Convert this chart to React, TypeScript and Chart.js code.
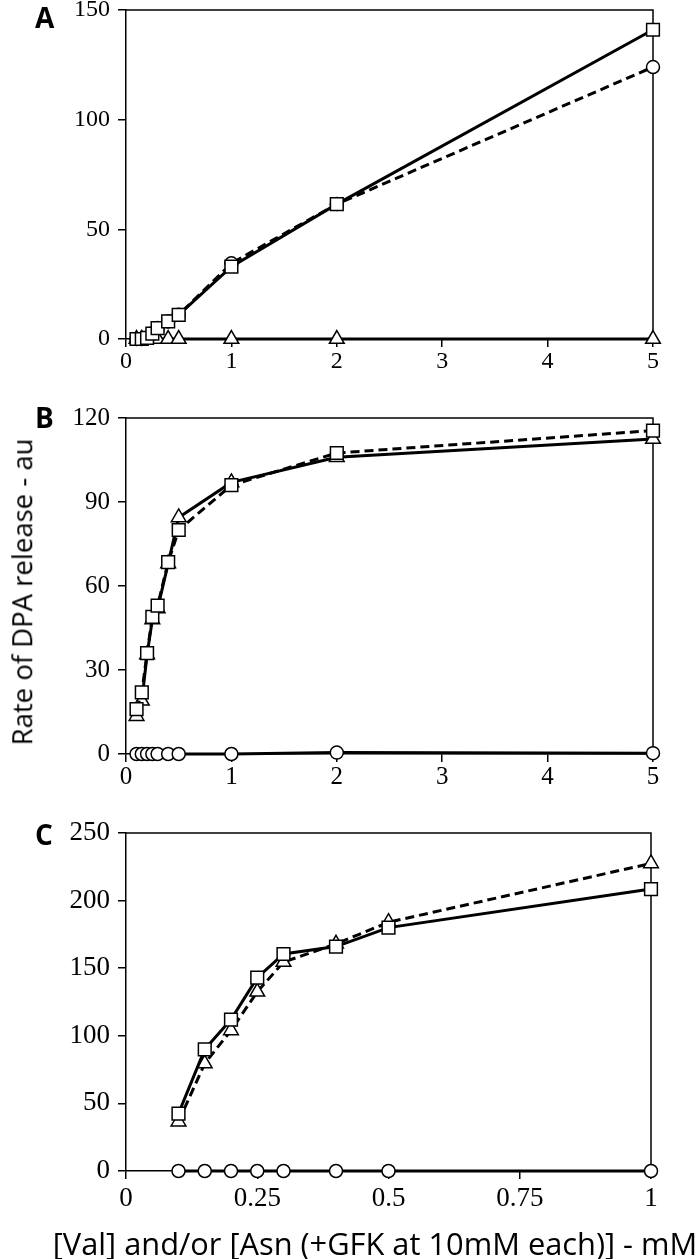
import React, { useEffect, useRef } from 'react';
import { Chart, registerables } from 'chart.js';

Chart.register(...registerables);

// ---- data ----
const xAB = [0.1, 0.15, 0.2, 0.25, 0.3, 0.4, 0.5, 1, 2, 5];
const xC = [0.1, 0.15, 0.2, 0.25, 0.3, 0.4, 0.5, 1];

const aSquare = [0, 0, 0.5, 2.5, 5, 8, 11, 33, 61.5, 141];
const aCircle = [0, 0, 0.5, 2.5, 5, 8, 11, 34.5, 61.5, 124];
const aTriangle = [0, 0, 0, 0, 0, 0, 0, 0, 0, 0];

const bSquare = [16, 22, 36, 49, 53, 68.5, 80, 96, 107.5, 115.5];
const bTriangle = [13.5, 19, 35.5, 48, 52, 68, 84.5, 97, 106, 112.5];
const bCircle = [0, 0, 0, 0, 0, 0, 0, 0, 0.5, 0.3];

const cSquare = [42.5, 90, 112, 143, 160.5, 166, 180, 208.5];
const cTriangle = [36.5, 79.5, 104, 132.5, 154.5, 168, 184, 227.5];
const cCircle = [0, 0, 0, 0, 0, 0, 0, 0];

const aYTicks = [0, 50, 100, 150];
const bYTicks = [0, 30, 60, 90, 120];
const cYTicks = [0, 50, 100, 150, 200, 250];
const abXTicks = [0, 1, 2, 3, 4, 5];
const cXTicks = [0, 0.25, 0.5, 0.75, 1];

const panelLabels = ['A', 'B', 'C'];
const yTitle = 'Rate of DPA release - au';
const xTitle = '[Val] and/or [Asn (+GFK at 10mM each)] - mM';

// ---- helpers ----
const pts = (xs: number[], ys: number[]) => xs.map((x, i) => ({ x, y: ys[i] }));

const framePlugin = {
  id: 'frame',
  beforeDatasetsDraw(chart: any) {
    const { ctx, chartArea } = chart;
    const { left, top, right, bottom } = chartArea;
    ctx.save();
    ctx.strokeStyle = '#000';
    ctx.lineWidth = 1.5;
    ctx.beginPath();
    ctx.moveTo(left, top);
    ctx.lineTo(right, top);
    ctx.lineTo(right, bottom);
    ctx.stroke();
    ctx.restore();
  },
};

type Series = { data: number[]; style: 'rect' | 'circle' | 'triangle'; dashed: boolean };

function ds(xs: number[], s: Series, order: number) {
  const radius = s.style === 'rect' ? 9 : s.style === 'triangle' ? 8.5 : 6.5;
  return {
    data: pts(xs, s.data),
    borderColor: '#000',
    borderWidth: 3,
    borderDash: s.dashed ? [9, 5] : [],
    pointStyle: s.style,
    pointRadius: radius,
    pointBorderWidth: 1.5,
    pointBorderColor: '#000',
    pointBackgroundColor: '#fff',
    tension: 0,
    clip: false,
    order,
  };
}

type PanelProps = {
  top: number;
  height: number;
  padTop: number;
  padBottom: number;
  padRight: number;
  xs: number[];
  series: Series[];
  xTicks: number[];
  yTicks: number[];
  fontSize: number;
  xLabelPad: number;
};

const X_AXIS_H = 50;

function Panel(p: PanelProps) {
  const ref = useRef<HTMLCanvasElement | null>(null);
  useEffect(() => {
    if (!ref.current) return;
    const font = { family: '"Liberation Serif", "Times New Roman", serif', size: p.fontSize };
    const chart = new Chart(ref.current, {
      type: 'line',
      data: {
        datasets: p.series.map((s, i) => ds(p.xs, s, i)) as any,
      },
      options: {
        animation: false,
        responsive: false,
        devicePixelRatio: 1,
        layout: { padding: { left: 0, right: p.padRight, top: p.padTop, bottom: p.padBottom } },
        plugins: { legend: { display: false }, tooltip: { enabled: false } },
        scales: {
          x: {
            type: 'linear',
            min: p.xTicks[0],
            max: p.xTicks[p.xTicks.length - 1],
            afterBuildTicks: (s: any) => {
              s.ticks = p.xTicks.map((v) => ({ value: v }));
            },
            afterFit: (s: any) => {
              s.height = X_AXIS_H;
            },
            ticks: { color: '#000', font, padding: p.xLabelPad, maxRotation: 0, callback: (v: any) => String(v) },
            grid: { drawOnChartArea: false, drawTicks: true, tickLength: 8, color: '#000', lineWidth: 1.5 },
            border: { color: '#000', width: 1.5 },
          },
          y: {
            type: 'linear',
            min: p.yTicks[0],
            max: p.yTicks[p.yTicks.length - 1],
            afterBuildTicks: (s: any) => {
              s.ticks = p.yTicks.map((v) => ({ value: v }));
            },
            afterFit: (s: any) => {
              s.width = 126;
            },
            ticks: { color: '#000', font, padding: 8, callback: (v: any) => String(v) },
            grid: { drawOnChartArea: false, drawTicks: true, tickLength: 8, color: '#000', lineWidth: 1.5 },
            border: { color: '#000', width: 1.5 },
          },
        },
      } as any,
      plugins: [framePlugin],
    });
    return () => chart.destroy();
  }, []);
  return (
    <canvas
      ref={ref}
      width={700}
      height={p.height}
      style={{ position: 'absolute', left: 0, top: p.top, width: 700, height: p.height }}
    />
  );
}

const labelStyle: React.CSSProperties = {
  position: 'absolute',
  left: 35,
  fontFamily: '"Open Sans", sans-serif',
  fontWeight: 700,
  fontSize: 28,
  lineHeight: 1,
  color: '#000',
};

export default function App() {
  return (
    <div style={{ position: 'absolute', left: 0, top: 0, width: 700, height: 1259, background: '#fff', overflow: 'hidden' }}>
      <Panel
        top={-20}
        height={410}
        padTop={30}
        padBottom={1}
        padRight={47}
        xs={xAB}
        xTicks={abXTicks}
        yTicks={aYTicks}
        fontSize={24}
        xLabelPad={0}
        series={[
          { data: aSquare, style: 'rect', dashed: false },
          { data: aCircle, style: 'circle', dashed: true },
          { data: aTriangle, style: 'triangle', dashed: false },
        ]}
      />
      <Panel
        top={390}
        height={415}
        padTop={28}
        padBottom={1}
        padRight={47}
        xs={xAB}
        xTicks={abXTicks}
        yTicks={bYTicks}
        fontSize={25}
        xLabelPad={0}
        series={[
          { data: bSquare, style: 'rect', dashed: true },
          { data: bTriangle, style: 'triangle', dashed: false },
          { data: bCircle, style: 'circle', dashed: false },
        ]}
      />
      <Panel
        top={800}
        height={422}
        padTop={33}
        padBottom={1}
        padRight={49}
        xs={xC}
        xTicks={cXTicks}
        yTicks={cYTicks}
        fontSize={27}
        xLabelPad={4}
        series={[
          { data: cSquare, style: 'rect', dashed: false },
          { data: cTriangle, style: 'triangle', dashed: true },
          { data: cCircle, style: 'circle', dashed: false },
        ]}
      />
      <div style={{ ...labelStyle, top: 3 }}>{panelLabels[0]}</div>
      <div style={{ ...labelStyle, top: 403 }}>{panelLabels[1]}</div>
      <div style={{ ...labelStyle, top: 820 }}>{panelLabels[2]}</div>
      <div
        style={{
          position: 'absolute',
          left: 22,
          top: 592,
          transform: 'translate(-50%, -50%) rotate(-90deg)',
          whiteSpace: 'nowrap',
          fontFamily: '"Open Sans", sans-serif',
          fontSize: 27.5,
          lineHeight: 1,
          color: '#000',
        }}
      >
        {yTitle}
      </div>
      <div
        style={{
          position: 'absolute',
          left: 375,
          top: 1243,
          transform: 'translate(-50%, -50%)',
          whiteSpace: 'nowrap',
          fontFamily: '"Open Sans", sans-serif',
          fontSize: 30.8,
          lineHeight: 1,
          color: '#000',
        }}
      >
        {xTitle}
      </div>
    </div>
  );
}
